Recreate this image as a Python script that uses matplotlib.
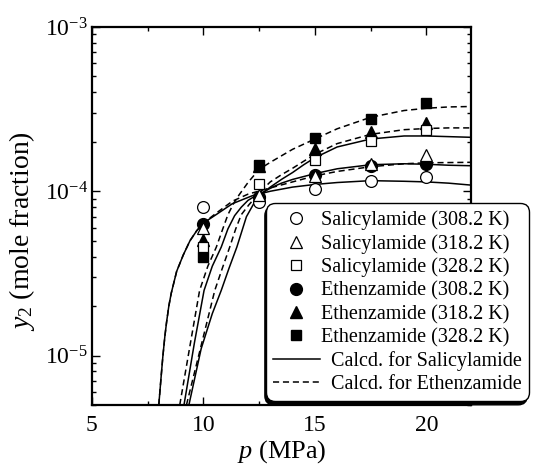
import numpy
import matplotlib
matplotlib.use('Agg')
import matplotlib.pyplot as plt
from matplotlib.ticker import MultipleLocator, LogLocator, NullFormatter
from matplotlib.lines import Line2D

#------------------------------------------------------------------------------------#
# Solubility of salicylamide / ethenzamide in supercritical CO2
# experimental points + calculated curves
#------------------------------------------------------------------------------------#

plt.rcParams['font.family'] = ['Liberation Serif', 'DejaVu Serif']
plt.rcParams['mathtext.fontset'] = 'custom'
plt.rcParams['mathtext.rm'] = 'Liberation Serif'
plt.rcParams['mathtext.it'] = 'Liberation Serif:italic'
plt.rcParams['axes.unicode_minus'] = False

# Experimental data (p in MPa, y2 mole fraction)
p_exp = [10.0, 12.5, 15.0, 17.5, 20.0]
sal_308 = [8.0e-5, 8.6e-5, 1.03e-4, 1.16e-4, 1.22e-4]
sal_318 = [5.95e-5, 9.46e-5, 1.23e-4, 1.46e-4, 1.66e-4]
sal_328 = [4.56e-5, 1.10e-4, 1.56e-4, 2.03e-4, 2.36e-4]
eth_308 = [6.35e-5, 9.2e-5, 1.25e-4, 1.43e-4, 1.46e-4]
eth_318 = [5.03e-5, 1.42e-4, 1.80e-4, 2.30e-4, 2.59e-4]
eth_328 = [3.96e-5, 1.45e-4, 2.10e-4, 2.77e-4, 3.43e-4]

# Calculated curves
p_cs308 = [8.0, 8.1, 8.18, 8.27, 8.35, 8.45, 8.56, 8.8, 9.1, 9.4, 9.7, 10.0, 10.6, 11.3, 12.2, 13.0, 14.0, 15.0, 16.0, 17.5, 19.0, 20.0, 21.0, 22.0]
y_cs308 = [5.0e-6, 7.3e-6, 9.8e-6, 1.3e-5, 1.6e-5, 2.0e-5, 2.4e-5, 3.25e-5, 4.1e-5, 5.0e-5, 5.75e-5, 6.4e-5, 7.25e-5, 8.4e-5, 9.4e-5, 1.0e-4, 1.06e-4, 1.10e-4, 1.13e-4, 1.16e-4, 1.15e-4, 1.14e-4, 1.12e-4, 1.09e-4]

p_cs318 = [9.13, 9.6, 10.03, 10.4, 10.8, 11.1, 11.4, 11.7, 12.0, 12.35, 12.7, 13.1, 13.5, 14.0, 15.0, 16.0, 17.5, 19.0, 20.0, 21.0, 22.0]
y_cs318 = [5.0e-6, 1.2e-5, 2.49e-5, 3.5e-5, 4.57e-5, 5.9e-5, 7.1e-5, 8.0e-5, 8.8e-5, 9.4e-5, 9.9e-5, 1.06e-4, 1.12e-4, 1.18e-4, 1.28e-4, 1.37e-4, 1.45e-4, 1.47e-4, 1.46e-4, 1.44e-4, 1.43e-4]

p_cs328 = [9.35, 9.9, 10.4, 10.8, 11.15, 11.5, 11.93, 12.3, 12.63, 13.0, 13.5, 14.0, 14.5, 15.0, 16.0, 17.5, 19.0, 20.0, 21.0, 22.0]
y_cs328 = [5.0e-6, 1.1e-5, 1.8e-5, 2.49e-5, 3.4e-5, 4.57e-5, 7.0e-5, 8.6e-5, 9.7e-5, 1.06e-4, 1.18e-4, 1.30e-4, 1.45e-4, 1.60e-4, 1.86e-4, 2.08e-4, 2.17e-4, 2.17e-4, 2.15e-4, 2.13e-4]

p_ce308 = [8.0, 8.1, 8.18, 8.27, 8.35, 8.45, 8.56, 8.8, 9.1, 9.4, 9.7, 10.0, 10.6, 11.3, 12.0, 12.8, 14.0, 15.0, 16.0, 17.5, 19.0, 20.0, 22.0]
y_ce308 = [5.0e-6, 7.3e-6, 9.8e-6, 1.3e-5, 1.6e-5, 2.0e-5, 2.4e-5, 3.25e-5, 4.1e-5, 5.0e-5, 5.75e-5, 6.4e-5, 7.4e-5, 8.7e-5, 9.6e-5, 1.03e-4, 1.14e-4, 1.24e-4, 1.32e-4, 1.41e-4, 1.47e-4, 1.49e-4, 1.50e-4]

p_ce318 = [9.24, 9.9, 10.51, 10.85, 11.18, 11.45, 11.7, 12.05, 12.38, 12.7, 13.0, 13.5, 14.0, 15.0, 16.0, 17.5, 19.0, 20.0, 21.0, 22.0]
y_ce318 = [5.0e-6, 1.15e-5, 2.49e-5, 3.4e-5, 4.57e-5, 5.9e-5, 7.2e-5, 8.3e-5, 9.3e-5, 1.04e-4, 1.14e-4, 1.26e-4, 1.38e-4, 1.68e-4, 1.95e-4, 2.22e-4, 2.37e-4, 2.41e-4, 2.43e-4, 2.43e-4]

p_ce328 = [8.94, 9.4, 9.83, 10.2, 10.58, 10.85, 11.1, 11.35, 11.6, 12.0, 12.5, 13.0, 14.0, 15.0, 16.0, 17.5, 19.0, 20.0, 21.0, 22.0]
y_ce328 = [5.0e-6, 1.15e-5, 2.49e-5, 3.5e-5, 4.57e-5, 5.8e-5, 7.2e-5, 8.4e-5, 9.5e-5, 1.13e-4, 1.36e-4, 1.50e-4, 1.80e-4, 2.08e-4, 2.40e-4, 2.82e-4, 3.10e-4, 3.20e-4, 3.26e-4, 3.28e-4]

labels = ['Salicylamide (308.2 K)', 'Salicylamide (318.2 K)', 'Salicylamide (328.2 K)',
          'Ethenzamide (308.2 K)', 'Ethenzamide (318.2 K)', 'Ethenzamide (328.2 K)',
          '  Calcd. for Salicylamide', '  Calcd. for Ethenzamide']

fig = plt.figure(figsize=(5.47, 4.69), dpi=100)
ax = fig.add_axes([0.168, 0.1365, 0.693, 0.806])

# curves
lw = 1.1
for px, py in [(p_cs308, y_cs308), (p_cs318, y_cs318), (p_cs328, y_cs328)]:
    ax.plot(px, py, '-', color='k', lw=lw, zorder=2)
for px, py in [(p_ce308, y_ce308), (p_ce318, y_ce318), (p_ce328, y_ce328)]:
    ax.plot(px, py, '--', color='k', lw=lw, dashes=(4, 2.5), zorder=2)

# points (filled first, open on top)
ms = 8.5
ax.plot(p_exp, eth_308, 'o', ms=ms, mfc='k', mec='k', zorder=3)
ax.plot(p_exp, eth_318, '^', ms=ms, mfc='k', mec='k', zorder=3)
ax.plot(p_exp, eth_328, 's', ms=ms - 1, mfc='k', mec='k', zorder=3)
ax.plot(p_exp, sal_308, 'o', ms=ms, mfc='w', mec='k', mew=0.9, zorder=4)
ax.plot(p_exp, sal_318, '^', ms=ms, mfc='w', mec='k', mew=0.9, zorder=4)
ax.plot(p_exp, sal_328, 's', ms=ms - 1, mfc='w', mec='k', mew=0.9, zorder=4)

ax.set_yscale('log')
ax.set_xlim(5, 22)
ax.set_ylim(5e-6, 1e-3)

ax.xaxis.set_major_locator(MultipleLocator(5))
ax.xaxis.set_minor_locator(MultipleLocator(2.5))
ax.yaxis.set_minor_locator(LogLocator(base=10, subs=numpy.arange(2, 10)))
ax.yaxis.set_minor_formatter(NullFormatter())

ax.tick_params(which='both', direction='in', top=True, right=True, width=1.0)
ax.tick_params(which='major', length=6, labelsize=17)
ax.tick_params(which='minor', length=3)
ax.tick_params(axis='x', pad=7)
ax.tick_params(axis='y', pad=3)
for s in ax.spines.values():
    s.set_linewidth(1.6)

ax.set_xlabel(r'$p$ (MPa)', fontsize=19, labelpad=2)
ax.set_ylabel(r'$y_2$ (mole fraction)', fontsize=20)
ax.yaxis.set_label_coords(-0.145, 0.46)

# legend
h = [Line2D([], [], ls='', marker='o', ms=ms, mfc='w', mec='k', mew=0.9),
     Line2D([], [], ls='', marker='^', ms=ms, mfc='w', mec='k', mew=0.9),
     Line2D([], [], ls='', marker='s', ms=ms - 1, mfc='w', mec='k', mew=0.9),
     Line2D([], [], ls='', marker='o', ms=ms, mfc='k', mec='k'),
     Line2D([], [], ls='', marker='^', ms=ms, mfc='k', mec='k'),
     Line2D([], [], ls='', marker='s', ms=ms - 1, mfc='k', mec='k'),
     Line2D([], [], ls='-', color='k', lw=lw),
     Line2D([], [], ls='--', color='k', lw=lw, dashes=(4, 2.5))]
leg = ax.legend(h, labels, loc='upper left', bbox_to_anchor=(0.46, 0.534), borderaxespad=0,
                fontsize=14.5, handlelength=2.3, handletextpad=0.05, labelspacing=0.2,
                borderpad=0.35, fancybox=True, framealpha=1, edgecolor='k',
                shadow={'ox': -1, 'oy': -2.5, 'color': 'k', 'alpha': 1})
leg.get_frame().set_linewidth(1.0)
leg.get_frame().set_boxstyle('round', pad=0, rounding_size=0.45)
leg.set_zorder(10)

plt.savefig('out.png', dpi=100)
